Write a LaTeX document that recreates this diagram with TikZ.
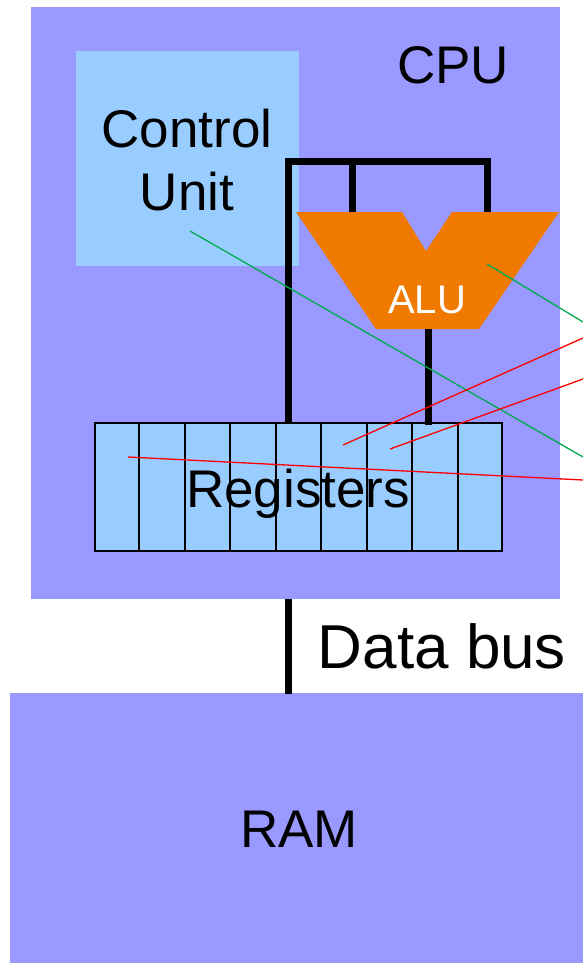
\documentclass[tikz,border=0pt]{standalone}
\usepackage{fontspec}
\setmainfont{Liberation Sans}
\usetikzlibrary{calc}
\definecolor{cpufill}{RGB}{153,153,255}
\definecolor{unitfill}{RGB}{153,204,255}
\definecolor{alufill}{RGB}{240,122,0}
\definecolor{callgreen}{RGB}{0,170,80}
\begin{document}
\begin{tikzpicture}[x=1pt,y=-1pt,
  block/.style={draw=none,inner sep=0pt,outer sep=0pt},
  label/.style={inner sep=0pt,outer sep=0pt,font=\fontsize{53}{63}\selectfont},
  bus/.style={line width=7pt,line join=miter,black},
  callout/.style={line width=1.3pt},
]
\useasboundingbox (0,0) rectangle (583,963);

% main boxes
\node[block,fill=cpufill,minimum width=529,minimum height=592] (cpu) at (295.5,303) {};
\node[block,fill=unitfill,minimum width=223,minimum height=215] (cu) at (187.5,158.5) {};
\node[block,fill=cpufill,minimum width=573,minimum height=270] (ram) at (296.5,827.5) {};

% ALU: trapezoid with a notch in its upper edge
\fill[alufill] (296,212) -- (402,212) -- (426,251) -- (452,212) -- (559,212)
  -- (479,329) -- (376,329) -- cycle;
\coordinate (aluinA) at (352,212);
\coordinate (aluinB) at (487,212);
\coordinate (aluout) at (428,329);

% register file: nine cells
\node[draw=black,line width=2pt,fill=unitfill,inner sep=0pt,
      minimum width=407,minimum height=128] (regs) at (298.5,487) {};
\foreach \i in {1,...,8}
  \draw[line width=2pt] ($(regs.north west)!\i/9!(regs.north east)$)
    -- ($(regs.south west)!\i/9!(regs.south east)$);

% buses
\coordinate (busA) at (288,423);
\coordinate (busTL) at (288,161);
\coordinate (busTR) at (487,161);
\coordinate (busM) at (352,161);
\coordinate (regin) at (428,425);
\draw[bus] (busA) -- (busTL) -- (busTR) -- (aluinB);
\draw[bus] (busM) -- (aluinA);
\draw[bus] (aluout) -- (regin);
\coordinate (dbtop) at (288,599);
\coordinate (dbbot) at (288,694);
\draw[bus] (dbtop) -- (dbbot);

% texts
\node[label,anchor=base] (cputxt) at (453,84) {CPU};
\node[label,anchor=base,align=center] (cutxt) at (187,210) {Control\\Unit};
\node[label,anchor=base,text=white,font=\fontsize{40}{48}\selectfont] (alutxt) at (427,313) {ALU};
\node[label,anchor=base] (regtxt) at (298,507) {Registers};
\node[label,anchor=base,font=\fontsize{62}{72}\selectfont] (dbtxt) at (442,668) {Data bus};
\node[label,anchor=base] (ramtxt) at (299,847) {RAM};

% callout lines leaving the right edge
\coordinate (cuP) at (190,231);
\coordinate (cuE) at (583,457);
\coordinate (aluP) at (487,264);
\coordinate (aluE) at (583,322);
\coordinate (rA) at (343,445);
\coordinate (rAE) at (583,338);
\coordinate (rB) at (390,449);
\coordinate (rBE) at (583,379);
\coordinate (rC) at (128,457);
\coordinate (rCE) at (583,480);
\draw[callout,callgreen] (cuP) -- (cuE);
\draw[callout,callgreen] (aluP) -- (aluE);
\draw[callout,red] (rA) -- (rAE);
\draw[callout,red] (rB) -- (rBE);
\draw[callout,red] (rC) -- (rCE);
\end{tikzpicture}
\end{document}
